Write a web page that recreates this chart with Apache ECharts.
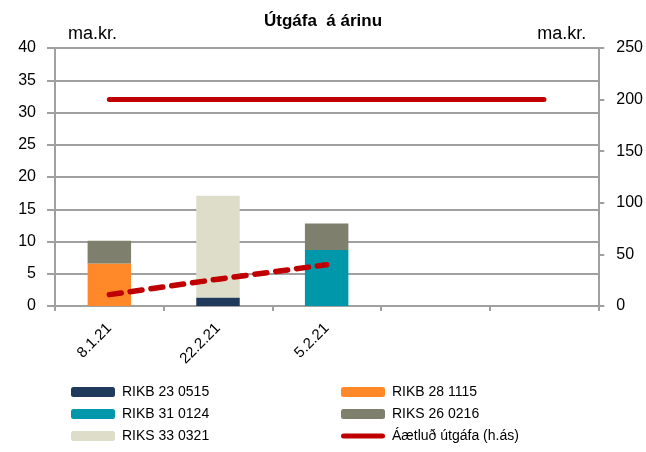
<!DOCTYPE html>
<html><head><meta charset="utf-8">
<script src="https://cdn.jsdelivr.net/npm/echarts@6/dist/echarts.min.js"></script>
<style>html,body{margin:0;padding:0;background:#fff}#c{width:646px;height:452px}</style>
</head><body><div id="c"></div>
<script>
var categories = ['8.1.21', '22.2.21', '5.2.21', '', ''];
var rikb230515 = [0, 1.3, 0, 0, 0];
var rikb281115 = [6.6, 0, 0, 0, 0];
var rikb310124 = [0, 0, 8.7, 0, 0];
var riks260216 = [3.5, 0, 4.1, 0, 0];
var riks330321 = [0, 15.8, 0, 0, 0];
var planned = [200, 200, 200, 200, 200];
var issued = [11, 26, 40, null, null];
var leftTicks = {min: 0, max: 40, interval: 5};
var rightTicks = {min: 0, max: 250, interval: 50};

var FONT = 'Liberation Sans';
var gridColor = '#a0a0a0';
var lineIcon = 'path://M0,0 M2.5,2.5 L41.5,2.5 A2.5,2.5 0 0 1 41.5,7.5 L2.5,7.5 A2.5,2.5 0 0 1 2.5,2.5 Z M44,10';
function bar(name, data, color) {
  return {name: name, type: 'bar', stack: 'a', data: data, barWidth: '40%',
    itemStyle: {color: color}, emphasis: {disabled: true}};
}
var legendCommon = {orient: 'vertical', top: 380, itemWidth: 44, itemHeight: 10, itemGap: 8,
  textStyle: {fontFamily: FONT, fontSize: 14, color: '#000', padding: [0, 0, 0, 2]}};
var chart = echarts.init(document.getElementById('c'));
chart.setOption({
  animation: false,
  textStyle: {fontFamily: FONT, color: '#000'},
  title: {text: 'Útgáfa  á árinu', left: 'center', top: 8,
    textStyle: {fontFamily: FONT, fontWeight: 'bold', fontSize: 17, color: '#000'}},
  grid: {left: 55, right: 47, top: 48, bottom: 146},
  legend: [
    Object.assign({left: 66, data: ['RIKB 23 0515', 'RIKB 31 0124', 'RIKS 33 0321']}, legendCommon),
    Object.assign({left: 336, data: ['RIKB 28 1115', 'RIKS 26 0216',
      {name: 'Áætluð útgáfa (h.ás)', icon: lineIcon}]}, legendCommon)
  ],
  xAxis: {type: 'category', data: categories, boundaryGap: true,
    axisLine: {lineStyle: {color: gridColor, width: 2}},
    axisTick: {show: true, length: 5, lineStyle: {color: gridColor, width: 2}},
    axisLabel: {rotate: 45, fontSize: 15, color: '#000', fontFamily: FONT, margin: 20}},
  yAxis: [
    {type: 'value', min: leftTicks.min, max: leftTicks.max, interval: leftTicks.interval,
     name: 'ma.kr.', nameLocation: 'end', nameGap: 5,
     nameTextStyle: {align: 'left', fontSize: 18, color: '#000', fontFamily: FONT, padding: [0, 0, 0, 13]},
     axisLine: {show: true, lineStyle: {color: gridColor, width: 2}},
     axisTick: {show: true, length: 8, lineStyle: {color: gridColor, width: 2}},
     splitLine: {lineStyle: {color: gridColor, width: 2}},
     axisLabel: {fontSize: 16, color: '#000', fontFamily: FONT, margin: 19}},
    {type: 'value', min: rightTicks.min, max: rightTicks.max, interval: rightTicks.interval,
     position: 'right',
     name: 'ma.kr.', nameLocation: 'end', nameGap: 5,
     nameTextStyle: {align: 'right', fontSize: 18, color: '#000', fontFamily: FONT, padding: [0, 12, 0, 0]},
     axisLine: {show: true, lineStyle: {color: gridColor, width: 2}},
     axisTick: {show: true, length: 6, lineStyle: {color: gridColor, width: 2}},
     splitLine: {show: false},
     axisLabel: {fontSize: 16, color: '#000', fontFamily: FONT, margin: 18}}
  ],
  series: [
    bar('RIKB 23 0515', rikb230515, '#1f3a5a'),
    bar('RIKB 28 1115', rikb281115, '#ff8828'),
    bar('RIKB 31 0124', rikb310124, '#0097ab'),
    bar('RIKS 26 0216', riks260216, '#7f7f6d'),
    bar('RIKS 33 0321', riks330321, '#ddddca'),
    {name: 'Áætluð útgáfa (h.ás)', type: 'line', yAxisIndex: 1, data: planned,
     symbol: 'none', lineStyle: {color: '#c00000', width: 5, cap: 'round'},
     itemStyle: {color: '#c00000'}},
    {name: 'Útgefið', type: 'line', yAxisIndex: 1, data: issued,
     symbol: 'none', lineStyle: {color: '#c00000', width: 5.5, type: [12, 9], cap: 'round'},
     itemStyle: {color: '#c00000'}}
  ]
});
</script></body></html>
